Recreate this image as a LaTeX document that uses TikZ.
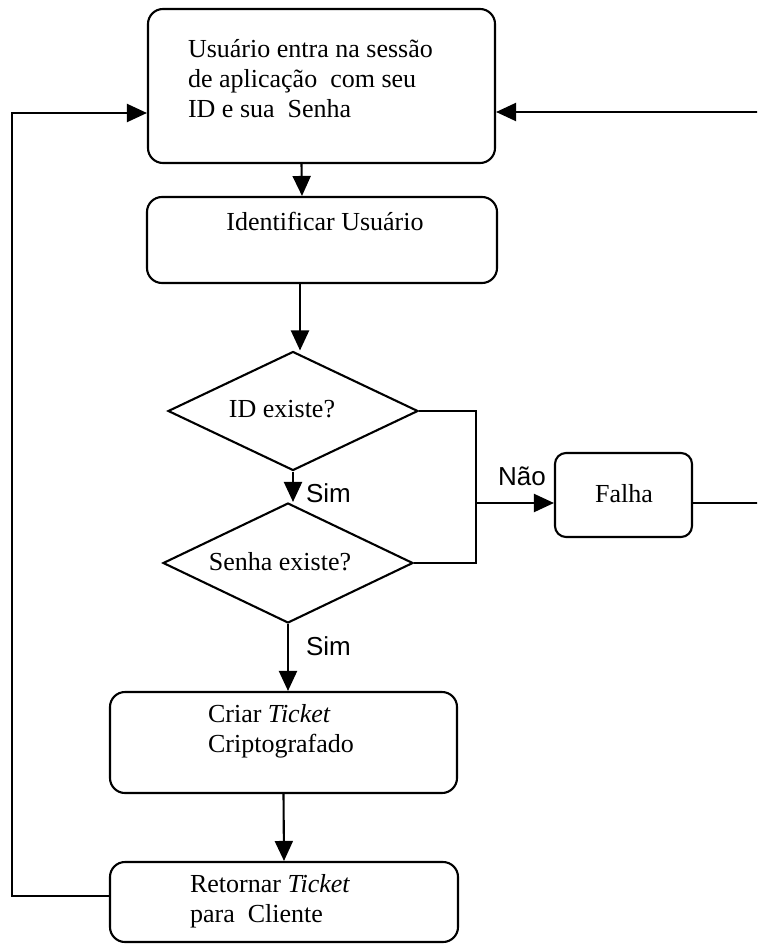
\documentclass[tikz,border=0pt]{standalone}
\usepackage{fontspec}
\setmainfont{Liberation Serif}
\newfontfamily\labelsans{Liberation Sans}
\usetikzlibrary{shapes.geometric,arrows.meta}
\begin{document}
\begin{tikzpicture}[x=1pt,y=-1pt,
  line width=2.1pt,
  stepbox/.style={draw,rounded corners=15pt,inner sep=0pt},
  decision/.style={draw,diamond,inner sep=0pt},
  txt/.style={font=\fontsize{26}{30}\selectfont,inner sep=0pt},
  lbl/.style={font=\labelsans\fontsize{26}{30}\selectfont,inner sep=0pt},
  arr/.style={-{Triangle[length=20pt,width=18pt]}},
]
\fill[white] (0,0) rectangle (757,944);
\useasboundingbox (0,0) rectangle (757,944);
\clip (0,0) rectangle (757,944);

% process steps
\node[stepbox,minimum width=347pt,minimum height=154pt] (login) at (321.5,86) {};
\node[stepbox,minimum width=350pt,minimum height=86pt] (ident) at (322,240) {};
\node[decision,minimum width=250pt,minimum height=119pt] (idq) at (293,411) {};
\node[decision,minimum width=250pt,minimum height=120pt] (pwq) at (288,563) {};
\node[stepbox,rounded corners=11pt,minimum width=137pt,minimum height=84pt] (fail) at (623.5,495) {};
\node[stepbox,minimum width=347pt,minimum height=101pt] (ticket) at (283.5,742.5) {};
\node[stepbox,minimum width=348pt,minimum height=80pt] (reply) at (284,902) {};

% texts (multi-line nodes are anchored at the baseline of their last line)
\node[txt,anchor=base west,align=left] (loginT) at (187,118)
  {Usuário entra na sessão\\de aplicação\ \ com seu\\ID e sua\ \ Senha};
\node[txt,anchor=base] (identT) at (325,230) {Identificar Usuário};
\node[txt,anchor=base] (idqT) at (282,417) {ID existe?};
\node[txt,anchor=base] (pwqT) at (280,570) {Senha existe?};
\node[txt,anchor=base] (failT) at (624,502) {Falha};
\node[txt,anchor=base west,align=left] (ticketT) at (207,752)
  {Criar \textit{Ticket}\\Criptografado};
\node[txt,anchor=base west,align=left] (replyT) at (189,922)
  {Retornar \textit{Ticket}\\para\ \ Cliente};

% branch labels
\node[lbl,anchor=base west] (sim1) at (305,502) {Sim};
\node[lbl,anchor=base west] (sim2) at (305,655) {Sim};
\node[lbl,anchor=base west] (nao) at (497,485) {Não};

% junction points
\coordinate (j) at (476,503);
\coordinate (r1) at (775,503);
\coordinate (r2) at (775,112);
\coordinate (l1) at (12,896);
\coordinate (l2) at (12,113);

% main flow
\draw[arr] ([xshift=-20pt]login.south) -- ([xshift=-20pt]ident.north);
\draw[arr] ([xshift=-22pt]ident.south) -- ([xshift=-22pt]ident.south |- idq.north);
\draw[arr] (idq.south) -- (idq.south |- pwq.north);
\draw[arr] (pwq.south) -- (pwq.south |- ticket.north);
\draw[arr] (ticket.south) -- (reply.north);

% failure branch
\draw (idq.east) -| (j) |- (pwq.east);
\draw[arr] (j) -- (j -| fail.west);
\draw[arr] (j -| fail.east) -- (r1) -- (r2) -- (r2 -| login.east);

% loop back to login
\draw[arr] (l1 -| reply.west) -- (l1) -- (l2) -- (l2 -| login.west);
\end{tikzpicture}
\end{document}
